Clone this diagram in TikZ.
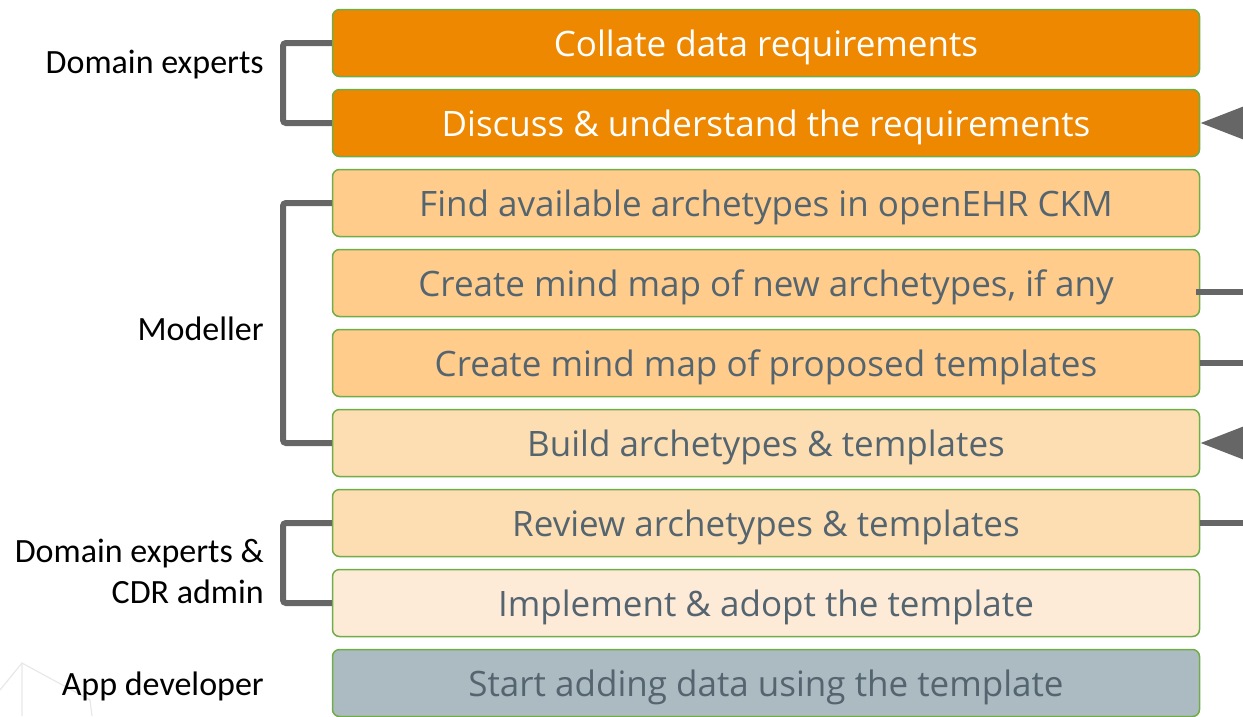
\documentclass[tikz,border=0pt]{standalone}
\usepackage{fontspec}
\setmainfont{Carlito}
\newfontfamily\boxfont{Open Sans}
\usetikzlibrary{arrows.meta,calc}
\definecolor{orangeA}{HTML}{EE8800}
\definecolor{orangeB}{HTML}{FFCC8C}
\definecolor{orangeC}{HTML}{FDDEB2}
\definecolor{orangeD}{HTML}{FDEBD8}
\definecolor{greyBox}{HTML}{ACBAC1}
\definecolor{txtGrey}{HTML}{546570}
\definecolor{edgeGreen}{HTML}{70AD47}
\definecolor{connGrey}{HTML}{666666}
\tikzset{
  stepbox/.style={draw=edgeGreen, line width=1.5pt, rounded corners=7pt,
    minimum width=867pt, minimum height=67pt, inner sep=0pt,
    text height=28pt, text depth=2pt,
    font=\boxfont\fontsize{35}{38}\selectfont, text=txtGrey},
  role/.style={anchor=east, font=\fontsize{34}{41}\selectfont, text=black, align=right, inner sep=0pt},
  conn/.style={draw=connGrey, line width=6pt},
  bracket/.style={conn, rounded corners=3pt},
  arr/.style={conn, -{Triangle[length=44pt,width=32pt]}}
}
\begin{document}
\begin{tikzpicture}[x=1pt,y=-1pt]
\useasboundingbox (0,0) rectangle (1243,716);
% faint background shape
\draw[black!9, line width=1.2pt] (22,716) -- (22,663) -- (90,700) -- (92,716);
\draw[black!9, line width=1.2pt] (0,690) -- (22,663);
% boxes
\node[stepbox, fill=orangeA, text=white] (b1) at (766,43) {Collate data requirements};
\node[stepbox, fill=orangeA, text=white] (b2) at (766,123) {Discuss \& understand the requirements};
\node[stepbox, fill=orangeB] (b3) at (766,203) {Find available archetypes in openEHR CKM};
\node[stepbox, fill=orangeB] (b4) at (766,283) {Create mind map of new archetypes, if any};
\node[stepbox, fill=orangeB] (b5) at (766,363) {Create mind map of proposed templates};
\node[stepbox, fill=orangeC] (b6) at (766,443) {Build archetypes \& templates};
\node[stepbox, fill=orangeC] (b7) at (766,523) {Review archetypes \& templates};
\node[stepbox, fill=orangeD] (b8) at (766,603) {Implement \& adopt the template};
\node[stepbox, fill=greyBox] (b9) at (766,683) {Start adding data using the template};
% roles
\node[role] (r1) at (264,65) {Domain experts};
\node[role] (r2) at (264,329) {Modeller};
\node[role] (r3) at (264,571) {Domain experts \&\\CDR admin};
\node[role] (r4) at (264,686) {App developer};
% brackets
\coordinate (k1t) at (283,43); \coordinate (k1b) at (283,123);
\coordinate (k2t) at (283,203); \coordinate (k2b) at (283,443);
\coordinate (k3t) at (283,523); \coordinate (k3b) at (283,603);
\draw[bracket] (b1.west) -- (k1t) -- (k1b) -- (b2.west);
\draw[bracket] (b3.west) -- (k2t) -- (k2b) -- (b6.west);
\draw[bracket] (b7.west) -- (k3t) -- (k3b) -- (b8.west);
% right-hand connectors
\coordinate (e2) at (1250,123);
\coordinate (e4) at (1250,292);
\coordinate (e5) at (1250,363);
\coordinate (e6) at (1250,443);
\coordinate (e7) at (1250,523);
\draw[arr] (e2) -- (b2.east);
\draw[conn] ($(b4.east)+(-4,9)$) -- (e4);
\draw[conn] (b5.east) -- (e5);
\draw[arr] (e6) -- (b6.east);
\draw[conn] (b7.east) -- (e7);
\end{tikzpicture}
\end{document}
